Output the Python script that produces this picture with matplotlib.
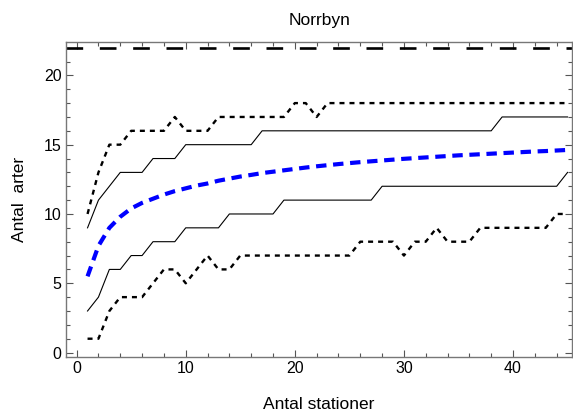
import numpy as np
import matplotlib
matplotlib.use("Agg")
import matplotlib.pyplot as plt
from matplotlib.ticker import MultipleLocator

plt.rcParams['font.family'] = ['Liberation Sans', 'DejaVu Sans']
plt.rcParams['lines.scale_dashes'] = False

stations = np.arange(1, 46)

# species counts
max_species = [10, 13, 15, 15, 16, 16, 16, 16, 17, 16, 16, 16, 17, 17, 17,
               17, 17, 17, 17, 18, 18, 17, 18, 18, 18, 18, 18, 18, 18, 18,
               18, 18, 18, 18, 18, 18, 18, 18, 18, 18, 18, 18, 18, 18, 18]
upper_ci = [9, 11, 12, 13, 13, 13, 14, 14, 14, 15, 15, 15, 15, 15, 15,
            15, 16, 16, 16, 16, 16, 16, 16, 16, 16, 16, 16, 16, 16, 16,
            16, 16, 16, 16, 16, 16, 16, 16, 17, 17, 17, 17, 17, 17, 17]
mean_species = [5.5, 7.7, 9.0, 9.8, 10.4, 10.8, 11.1, 11.4, 11.65, 11.85,
                12.05, 12.2, 12.4, 12.55, 12.7, 12.82, 12.95, 13.05, 13.15, 13.25,
                13.35, 13.44, 13.52, 13.6, 13.67, 13.74, 13.8, 13.86, 13.92, 13.98,
                14.03, 14.08, 14.13, 14.18, 14.23, 14.27, 14.31, 14.35, 14.39, 14.43,
                14.47, 14.51, 14.54, 14.58, 14.62]
lower_ci = [3, 4, 6, 6, 7, 7, 8, 8, 8, 9, 9, 9, 9, 10, 10,
            10, 10, 10, 11, 11, 11, 11, 11, 11, 11, 11, 11, 12, 12, 12,
            12, 12, 12, 12, 12, 12, 12, 12, 12, 12, 12, 12, 12, 12, 13]
min_species = [1, 1, 3, 4, 4, 4, 5, 6, 6, 5, 6, 7, 6, 6, 7,
               7, 7, 7, 7, 7, 7, 7, 7, 7, 7, 8, 8, 8, 8, 7,
               8, 8, 9, 8, 8, 8, 9, 9, 9, 9, 9, 9, 9, 10, 10]
total_species = 22

fig = plt.figure(figsize=(5.73, 4.17), dpi=100)
ax = fig.add_axes([0.1147, 0.1432, 0.8844, 0.7568])

ax.axhline(total_species, color='black', lw=1.9, dashes=(12, 12))
ax.plot(stations, max_species, color='black', lw=1.7, dashes=(3.6, 3.6))
ax.plot(stations, upper_ci, color='black', lw=0.8)
ax.plot(stations, mean_species, color=(0, 0, 1), lw=3.0, dashes=(7.5, 4.8))
ax.plot(stations, lower_ci, color='black', lw=0.8)
ax.plot(stations, min_species, color='black', lw=1.7, dashes=(3.6, 3.6))

ax.set_xlim(-1.0, 45.45)
ax.set_ylim(-0.34, 22.43)
ax.xaxis.set_major_locator(MultipleLocator(10))
ax.xaxis.set_minor_locator(MultipleLocator(2))
ax.yaxis.set_major_locator(MultipleLocator(5))
ax.yaxis.set_minor_locator(MultipleLocator(1))
ax.tick_params(which='both', direction='in', top=True, right=True,
               color='#555555', labelsize=11.5, pad=3)
ax.tick_params(which='major', length=5, width=0.8)
ax.tick_params(which='minor', length=3, width=0.8)
for sp in ax.spines.values():
    sp.set_color('#777777')
    sp.set_linewidth(1.0)

ax.set_title('Norrbyn', fontsize=12.5, pad=12)
ax.set_xlabel('Antal stationer', fontsize=12.5, labelpad=15)
ax.set_ylabel('Antal  arter', fontsize=12.5, labelpad=12)

fig.savefig('out.png', dpi=100)
